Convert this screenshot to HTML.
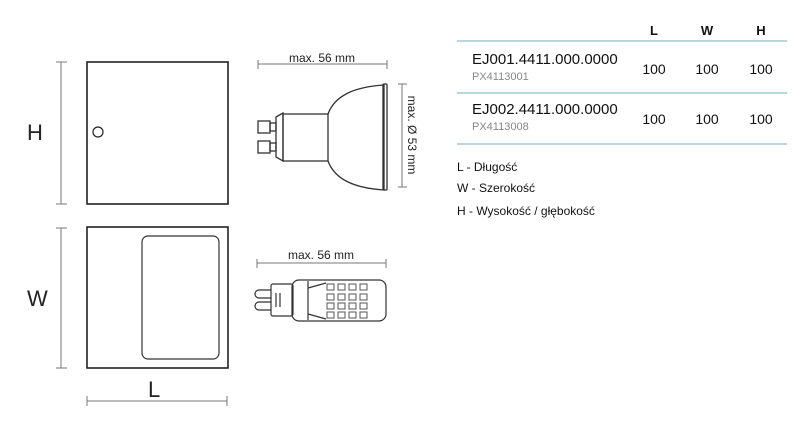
<!DOCTYPE html>
<html><head><meta charset="utf-8"><style>
body{margin:0;background:#fff;width:796px;height:436px;overflow:hidden;font-family:"Liberation Sans",sans-serif}
svg{position:absolute;left:0;top:0}
</style></head><body>
<svg width="796" height="436" viewBox="0 0 796 436" font-family="Liberation Sans, sans-serif">
<!-- boxes -->
<rect x="87" y="62" width="141" height="142" fill="none" stroke="#222" stroke-width="1.6"/>
<circle cx="98" cy="132" r="5" fill="none" stroke="#222" stroke-width="1.2"/>
<rect x="87" y="227" width="141" height="141" fill="none" stroke="#222" stroke-width="1.6"/>
<rect x="142" y="236" width="77" height="123" rx="6" fill="none" stroke="#333" stroke-width="1.2"/>
<!-- dims -->
<g stroke="#777" stroke-width="1">
<line x1="61" y1="62" x2="61" y2="204"/><line x1="56" y1="62" x2="67" y2="62"/><line x1="56" y1="204" x2="67" y2="204"/>
<line x1="61" y1="228" x2="61" y2="368"/><line x1="56" y1="228" x2="67" y2="228"/><line x1="56" y1="368" x2="67" y2="368"/>
<line x1="87" y1="401" x2="227" y2="401"/><line x1="87" y1="396" x2="87" y2="406"/><line x1="227" y1="396" x2="227" y2="406"/>
<line x1="258" y1="64" x2="387" y2="64"/><line x1="258" y1="60" x2="258" y2="69"/><line x1="387" y1="60" x2="387" y2="69"/>
<line x1="402" y1="84" x2="402" y2="187"/><line x1="398" y1="84" x2="407" y2="84"/><line x1="398" y1="187" x2="407" y2="187"/>
<line x1="257" y1="263" x2="386" y2="263"/><line x1="257" y1="259" x2="257" y2="268"/><line x1="386" y1="259" x2="386" y2="268"/>
</g>
<text x="27" y="140" font-size="22" fill="#222">H</text>
<text x="27" y="306" font-size="22" fill="#222">W</text>
<text x="148" y="397" font-size="22" fill="#222">L</text>
<text x="322" y="62" font-size="12" fill="#222" text-anchor="middle">max. 56 mm</text>
<text x="321" y="259" font-size="12" fill="#222" text-anchor="middle">max. 56 mm</text>
<text transform="translate(408,135) rotate(90)" font-size="12" fill="#222" text-anchor="middle">max. Ø 53 mm</text>
<!-- GU10 -->
<g fill="none" stroke="#333" stroke-width="1.3">
<rect x="258" y="121" width="12" height="12"/><rect x="270" y="123" width="6" height="8"/>
<rect x="258" y="141" width="12" height="12"/><rect x="270" y="143" width="6" height="8"/>
<path d="M276 117 L283 113 L283 161 L276 157 Z"/>
<rect x="283" y="114" width="45" height="47"/>
<path d="M328 114 C335 95 355 87 384 85 L384 190 C355 188 335 180 328 161"/>
<rect x="383" y="84" width="4" height="106" rx="1"/>
</g>
<!-- G9 -->
<g fill="none" stroke="#333" stroke-width="1.2">
<path d="M271 290 L259 290 a4 4 0 0 0 0 8 L271 298"/>
<path d="M271 302 L259 302 a4 4 0 0 0 0 8 L271 310"/>
<rect x="271" y="284" width="22" height="32" rx="2"/>
<line x1="276" y1="293" x2="276" y2="307"/><line x1="280" y1="293" x2="280" y2="307"/>
<rect x="292" y="280" width="94" height="41" rx="7"/>
<line x1="308" y1="281" x2="308" y2="320"/>
<path d="M308 288 L326 283 M308 314 L326 319"/>
</g>
<g fill="none" stroke="#555" stroke-width="1">
<rect x="327" y="284" width="7" height="6"/><rect x="338" y="284" width="7" height="6"/><rect x="349" y="284" width="7" height="6"/><rect x="360" y="284" width="7" height="6"/>
<rect x="327" y="294" width="7" height="6"/><rect x="338" y="294" width="7" height="6"/><rect x="349" y="294" width="7" height="6"/><rect x="360" y="294" width="7" height="6"/>
<rect x="327" y="303" width="7" height="6"/><rect x="338" y="303" width="7" height="6"/><rect x="349" y="303" width="7" height="6"/><rect x="360" y="303" width="7" height="6"/>
<rect x="327" y="312" width="7" height="6"/><rect x="338" y="312" width="7" height="6"/><rect x="349" y="312" width="7" height="6"/><rect x="360" y="312" width="7" height="6"/>
</g>
<!-- table -->
<g font-weight="bold" font-size="13" fill="#111" text-anchor="middle">
<text x="654" y="35">L</text><text x="707" y="35">W</text><text x="761" y="35">H</text>
</g>
<g stroke="#8cc0d0" stroke-width="1.2">
<line x1="457" y1="41" x2="787" y2="41"/><line x1="457" y1="93" x2="787" y2="93"/><line x1="457" y1="144" x2="787" y2="144"/>
</g>
<text x="472" y="64" font-size="15" fill="#111">EJ001.4411.000.0000</text>
<text x="472" y="80" font-size="11" fill="#888">PX4113001</text>
<text x="472" y="114" font-size="15" fill="#111">EJ002.4411.000.0000</text>
<text x="472" y="130" font-size="11" fill="#888">PX4113008</text>
<g font-size="14" fill="#111" text-anchor="middle">
<text x="654" y="74">100</text><text x="707" y="74">100</text><text x="761" y="74">100</text>
<text x="654" y="124">100</text><text x="707" y="124">100</text><text x="761" y="124">100</text>
</g>
<g font-size="12" fill="#111">
<text x="457" y="171">L - Długość</text>
<text x="457" y="192">W - Szerokość</text>
<text x="457" y="215">H - Wysokość / głębokość</text>
</g>
</svg>
</body></html>
